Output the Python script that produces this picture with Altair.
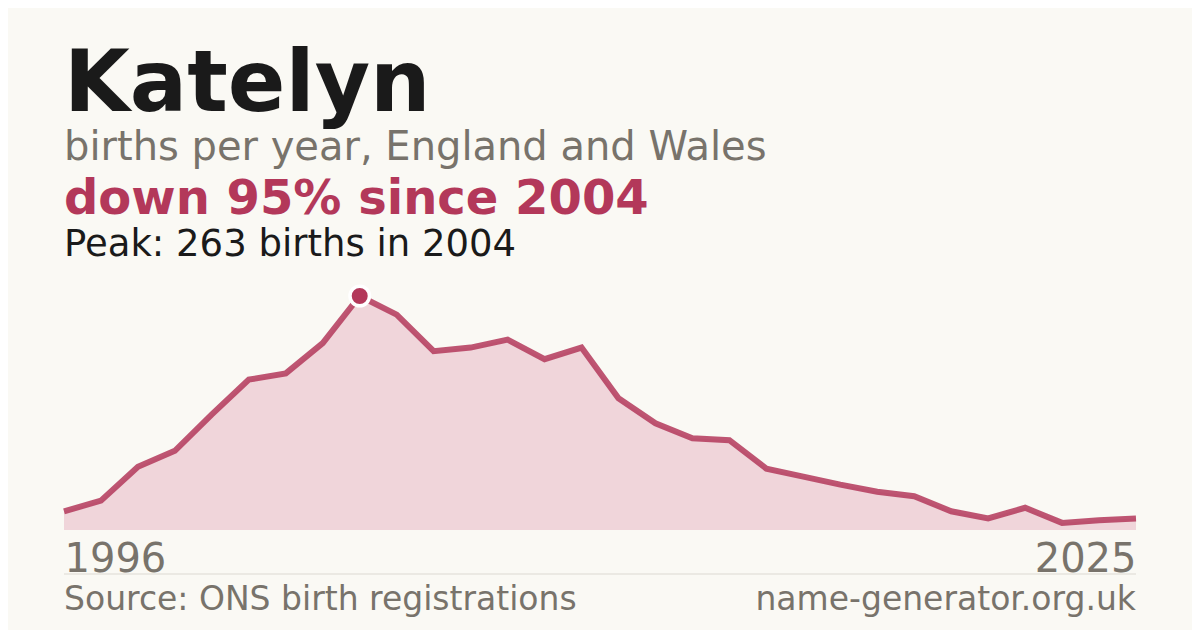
import altair as alt
import pandas as pd

years = list(range(1996, 2026))
births = [21, 33, 71, 89, 130, 169, 176, 210, 263, 242, 201, 205, 214, 192, 205,
          148, 120, 103, 101, 69, 60, 51, 43, 38, 21, 13, 25, 8, 11, 13]

name = "Katelyn"
subtitle = "births per year, England and Wales"
headline = "down 95% since 2004"
peak_text = "Peak: 263 births in 2004"
source = "Source: ONS birth registrations"
site = "name-generator.org.uk"

df = pd.DataFrame({"year": years, "births": births})
peak_df = df[df.births == df.births.max()]

W, H = 1072, 234
RED = "#b3385a"
GREY = "#78736b"
FONT = "DejaVu Sans"

x = alt.X("year:Q", scale=alt.Scale(domain=[1996, 2025], nice=False),
          axis=alt.Axis(values=[1996, 2025], format="d", labelFlush=True, ticks=False,
                        domain=False, grid=False, title=None, labelFontSize=40,
                        labelColor=GREY, labelFont=FONT, labelPadding=9,
                        labelBaseline="top"))
y = alt.Y("births:Q", scale=alt.Scale(domain=[0, 263], nice=False), axis=None)

area = alt.Chart(df).mark_area(color="#f0d5da", opacity=1).encode(x=x, y=y)
line = alt.Chart(df).mark_line(color=RED, strokeWidth=6, opacity=0.85).encode(x=x, y=y)
peak = alt.Chart(peak_df).mark_point(shape="circle", filled=True, fill=RED, size=380,
                                      stroke="white", strokeWidth=3.5, opacity=1).encode(x=x, y=y)

def txt(s, yv, size, color, weight="normal", align="left", xv=0):
    return alt.Chart(pd.DataFrame({"t": [s]})).mark_text(
        text=s, align=align, baseline="alphabetic", fontSize=size, font=FONT,
        fontWeight=weight, color=color
    ).encode(x=alt.value(xv), y=alt.value(yv))

texts = [
    txt(name, -185, 85, "#1a1a1a", "bold"),
    txt(subtitle, -136, 40, GREY),
    txt(headline, -82, 48, RED, "bold"),
    txt(peak_text, -40, 37, "#1a1a1a"),
    txt(source, 314, 33, GREY),
    txt(site, 314, 33, GREY, align="right", xv=W),
]

rule = alt.Chart(pd.DataFrame({"a": [0]})).mark_rule(color="#dcd9d2", strokeWidth=1).encode(
    x=alt.value(0), x2=alt.value(W), y=alt.value(278))

chart = alt.layer(area, line, peak, rule, *texts).properties(
    width=W, height=H,
    autosize=alt.AutoSizeParams(type="none"),
    padding={"left": 56, "top": 288, "right": 56, "bottom": 100},
    background="#faf9f4",
).configure_view(stroke=None)

chart.save("out.html", embed_options={"renderer": "svg", "actions": False})
